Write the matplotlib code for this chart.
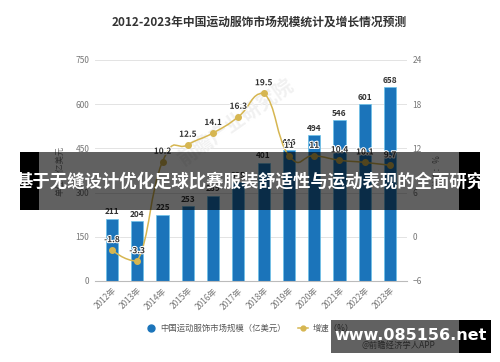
import matplotlib
matplotlib.use("Agg")
import matplotlib.pyplot as plt
import matplotlib.patheffects as pe
from matplotlib.path import Path
from matplotlib.patches import PathPatch, Rectangle
from matplotlib.lines import Line2D
import numpy as np

plt.rcParams["font.family"] = ["Noto Sans CJK SC", "DejaVu Sans"]

years = ["2012年", "2013年", "2014年", "2015年", "2016年", "2017年",
         "2018年", "2019年", "2020年", "2021年", "2022年", "2023年"]
market_size = [211, 204, 225, 253, 289, 335, 401, 446, 494, 546, 601, 658]
growth = [-1.8, -3.3, 10.2, 12.5, 14.1, 16.3, 19.5, 11, 11, 10.4, 10.1, 9.7]
growth_labels = ["-1.8", "-3.3", "10.2", "12.5", "14.1", "16.3", "19.5",
                 "11", "11", "10.4", "10.1", "9.7"]

title = "2012-2023年中国运动服饰市场规模统计及增长情况预测"
banner = "基于无缝设计优化足球比赛服装舒适性与运动表现的全面研究"

BLUE = "#1b74ba"
GOLD = "#d6b651"
GREY = "#777777"

W, H = 500, 362
fig = plt.figure(figsize=(5, 3.62), dpi=100)
ax = fig.add_axes([95 / W, 1 - 281 / H, 312 / W, 221 / H])
ax2 = ax.twinx()

x = np.arange(len(years))
ax.bar(x, market_size, width=0.48, color=BLUE, edgecolor="#6cc3ea", linewidth=0.5, zorder=2)
for xi, v in zip(x, market_size):
    ax.text(xi, v + 8, str(v), ha="center", va="bottom", fontsize=6, fontweight="bold",
            color="#333333", zorder=3)

ax.set_xlim(-0.67, 11.67)
ax.set_ylim(0, 750)
ax.set_yticks(range(0, 751, 150))
ax.grid(axis="y", color="#e3e3e3", linewidth=0.7, zorder=0)
ax.set_axisbelow(True)
ax.set_xticks(x)
ax.set_xticklabels(years, rotation=45, ha="right", rotation_mode="anchor", fontsize=5.5, color=GREY)
ax.tick_params(axis="both", length=0, labelsize=6, labelcolor=GREY)
ax.tick_params(axis="y", pad=4)
for s in ["top", "right", "left"]:
    ax.spines[s].set_visible(False)
ax.spines["bottom"].set_color("#bbbbbb")
ax.set_ylabel("单位：亿美元", fontsize=6, color=GREY, labelpad=8)

# faint watermark behind the bars
ax.text(0.45, 0.72, "前瞻产业研究院", transform=ax.transAxes, fontsize=14, color="#f1f1f1",
        rotation=35, ha="center", va="center", fontweight="bold", zorder=1)

# smooth growth curve (echarts style bezier through the points)
gy = np.array(growth, dtype=float)
pts = np.column_stack([x, gy])
lo, hi = gy.min(), gy.max()
verts = [pts[0]]
codes = [Path.MOVETO]
def ctrl(i, sign):
    if i == 0 or i == len(pts) - 1:
        return pts[i].copy()
    c = pts[i] + sign * (pts[i + 1] - pts[i - 1]) * 0.25
    c[1] = min(max(c[1], lo), hi)
    return c
for i in range(len(pts) - 1):
    verts += [ctrl(i, 1), ctrl(i + 1, -1), pts[i + 1]]
    codes += [Path.CURVE4] * 3
ax2.add_patch(PathPatch(Path(verts, codes), facecolor="none", edgecolor=GOLD, linewidth=1.1, zorder=4))
ax2.plot(x, gy, "o", color=GOLD, markersize=4, zorder=5)
for xi, v, lab in zip(x, gy, growth_labels):
    ax2.text(xi, v + 0.8, lab, ha="center", va="bottom", fontsize=6, fontweight="bold",
             color="#333333", zorder=6,
             path_effects=[pe.withStroke(linewidth=1.5, foreground="white")])

ax2.set_ylim(-6, 24)
ax2.set_yticks(range(-6, 25, 6))
ax2.tick_params(axis="y", length=0, labelsize=6, labelcolor=GREY, pad=4)
for s in ax2.spines.values():
    s.set_visible(False)
ax2.set_ylabel("单位：%", fontsize=6, color=GREY, labelpad=8)

fig.text(259 / W, 1 - 22 / H, title, ha="center", va="center", fontsize=8.5,
         fontweight="bold", color="#333333")

handles = [Line2D([], [], marker="o", linestyle="none", color=BLUE, markersize=5),
           Line2D([], [], marker="o", color=GOLD, markersize=3.5, linewidth=1.1)]
fig.legend(handles, ["中国运动服饰市场规模（亿美元）", "增速（%）"], loc="center",
           bbox_to_anchor=(250 / W, 1 - 328 / H), ncol=2, frameon=False, fontsize=6,
           labelcolor="#555555", handlelength=1.2, columnspacing=1.5, handletextpad=0.5)
fig.text(398 / W, 1 - 345 / H, "@前瞻经济学人APP", ha="center", va="center", fontsize=6, color="#666666")

# overlay banner
fig.patches.append(Rectangle((39 / W, 1 - 210 / H), 420 / W, 58 / H, transform=fig.transFigure,
                             facecolor="black", alpha=0.62, zorder=10))
fig.patches.append(Rectangle((20 / W, 1 - 210 / H), 19 / W, 58 / H, transform=fig.transFigure,
                             facecolor="black", zorder=10))
fig.patches.append(Rectangle((459 / W, 1 - 210 / H), 21 / W, 58 / H, transform=fig.transFigure,
                             facecolor="black", zorder=10))
fig.text(250 / W, 1 - 182 / H, banner, ha="center", va="center", fontsize=12.5,
         fontweight="bold", color="white", zorder=11)

# site stamp
fig.patches.append(Rectangle((331 / W, 1 - 353 / H), 128 / W, 33 / H, transform=fig.transFigure,
                             facecolor="black", alpha=0.62, zorder=10))
fig.patches.append(Rectangle((459 / W, 1 - 353 / H), 32 / W, 33 / H, transform=fig.transFigure,
                             facecolor="black", zorder=10))
fig.text(411 / W, 1 - 336 / H, "www.085156.net", ha="center", va="center", fontsize=11.5,
         fontweight="bold", color="white", family="DejaVu Sans", zorder=11)

fig.savefig("out.png", dpi=100)
